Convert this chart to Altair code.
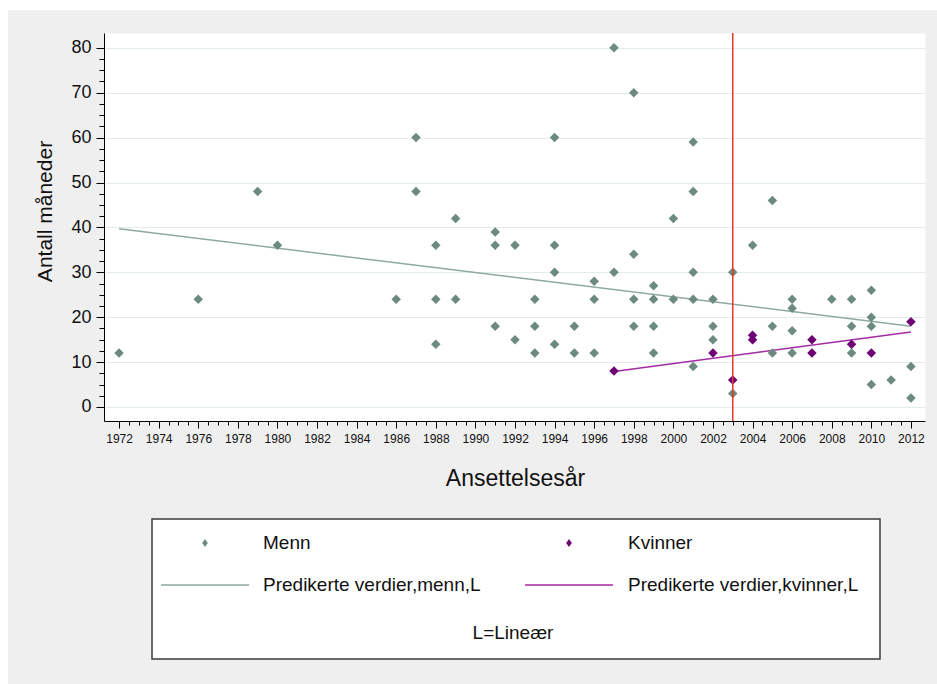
import altair as alt
import pandas as pd

# ---- data ----
men_year = [1972, 1976, 1979, 1980, 1986, 1987, 1987, 1988, 1988, 1988,
            1989, 1989, 1991, 1991, 1991, 1992, 1992, 1993, 1993, 1993,
            1994, 1994, 1994, 1994, 1995, 1995, 1996, 1996, 1996, 1997,
            1997, 1998, 1998, 1998, 1998, 1999, 1999, 1999, 1999, 2000,
            2000, 2001, 2001, 2001, 2001, 2001, 2002, 2002, 2002, 2003,
            2003, 2004, 2005, 2005, 2005, 2006, 2006, 2006, 2006, 2008,
            2009, 2009, 2009, 2010, 2010, 2010, 2010, 2011, 2012, 2012]
men_months = [12, 24, 48, 36, 24, 60, 48, 36, 24, 14,
              42, 24, 39, 36, 18, 36, 15, 24, 18, 12,
              60, 36, 30, 14, 18, 12, 28, 24, 12, 80,
              30, 70, 34, 24, 18, 27, 24, 18, 12, 42,
              24, 59, 48, 30, 24, 9, 24, 18, 15, 30,
              3, 36, 46, 18, 12, 24, 22, 17, 12, 24,
              24, 18, 12, 26, 20, 18, 5, 6, 9, 2]

women_year = [1997, 2002, 2003, 2004, 2004, 2007, 2007, 2009, 2010, 2012]
women_months = [8, 12, 6, 16, 15, 15, 12, 14, 12, 19]

fit_men_year = [1972, 2012]
fit_men_value = [39.7, 18.0]
fit_women_year = [1997, 2012]
fit_women_value = [7.9, 16.7]

cutoff_year = [2003]

x_major = list(range(1972, 2013, 2))
x_minor = [1972 + 0.5 * i for i in range(81)]
y_major = list(range(0, 81, 10))
y_minor = [2.5 * i for i in range(33)]

legend_labels = ["Menn", "Kvinner", "Predikerte verdier,menn,L", "Predikerte verdier,kvinner,L"]
legend_note = "L=Lineær"
x_title = "Ansettelsesår"
y_title = "Antall måneder"

# ---- styles ----
MEN_PT = "#6c8a7e"
MEN_LN = "#8fa99e"
WOM_PT = "#6e0073"
WOM_LN = "#a52aa5"
RED = "#e8372c"
FONT = "Liberation Sans, Arial, sans-serif"
TXT = "#111111"

W, H = 821, 388
xscale = alt.Scale(domain=[1971.24, 2012.71], nice=False, zero=False)
yscale = alt.Scale(domain=[-3.12, 83.3], nice=False, zero=False)

men_df = pd.DataFrame({"year": men_year, "months": men_months})
women_df = pd.DataFrame({"year": women_year, "months": women_months})
fit_df = pd.DataFrame({
    "year": fit_men_year + fit_women_year,
    "months": fit_men_value + fit_women_value,
    "grp": ["m", "m", "w", "w"],
})
cut_df = pd.DataFrame({"year": cutoff_year})
one = pd.DataFrame({"k": [0]})

x_major_axis = alt.Axis(values=x_major, format="d", orient="bottom", labelFontSize=12,
                        labelColor=TXT, tickSize=7, tickColor="black", domainColor="black",
                        labelPadding=5, grid=False, labelFlush=False, labelOverlap=False,
                        title=x_title, titleFontSize=23, titleFontWeight="normal",
                        titleColor=TXT, titleX=411, titleY=57, titleBaseline="middle")
y_major_axis = alt.Axis(values=y_major, orient="left", labelFontSize=18, labelColor=TXT,
                        tickSize=8, tickColor="black", domainColor="black", labelPadding=5,
                        grid=True, gridColor="#e2ecee", gridWidth=1.2,
                        title=y_title, titleFontSize=21, titleFontWeight="normal",
                        titleColor=TXT, titleX=-59, titleY=178, titleBaseline="middle",
                        titleAngle=270)
x_minor_axis = alt.Axis(values=x_minor, orient="bottom", labels=False, domain=False,
                        grid=False, tickSize=4, tickColor="black", title=None)
y_minor_axis = alt.Axis(values=y_minor, orient="left", labels=False, domain=False,
                        grid=False, tickSize=5, tickColor="black", title=None)

# background white strips (outer frame of the screenshot)
strip_top = alt.Chart(one).mark_rect(color="white").encode(
    x=alt.value(-104), x2=alt.value(833), y=alt.value(-33), y2=alt.value(-23))
strip_left = alt.Chart(one).mark_rect(color="white").encode(
    x=alt.value(-104), x2=alt.value(-96), y=alt.value(-33), y2=alt.value(651))

# minor axes carrier (fit lines)
fit_lines = alt.Chart(fit_df).mark_line(strokeWidth=1.5).encode(
    x=alt.X("year:Q", scale=xscale, axis=x_minor_axis),
    y=alt.Y("months:Q", scale=yscale, axis=y_minor_axis),
    color=alt.Color("grp:N", scale=alt.Scale(domain=["m", "w"], range=[MEN_LN, WOM_LN]), legend=None),
    detail="grp:N",
)

men_pts = alt.Chart(men_df).mark_point(shape="diamond", filled=True, size=90, opacity=1,
                                        color=MEN_PT).encode(
    x=alt.X("year:Q", scale=xscale, axis=x_major_axis),
    y=alt.Y("months:Q", scale=yscale, axis=y_major_axis),
)
women_pts = alt.Chart(women_df).mark_point(shape="diamond", filled=True, size=90, opacity=1,
                                            color=WOM_PT).encode(
    x=alt.X("year:Q", scale=xscale, axis=None),
    y=alt.Y("months:Q", scale=yscale, axis=None),
)
cut_rule = alt.Chart(cut_df).mark_rule(color=RED, strokeWidth=1.5).encode(
    x=alt.X("year:Q", scale=xscale, axis=None),
)

# legend (drawn manually below the plot)
box = alt.Chart(one).mark_rect(fill="white", stroke="#3c3c3c", strokeWidth=1.5).encode(
    x=alt.value(48), x2=alt.value(776), y=alt.value(486), y2=alt.value(626))
LEG_DIAMOND = "M0,-1L0.7,0L0,1L-0.7,0Z"
leg_m_sym = alt.Chart(one).mark_point(shape=LEG_DIAMOND, filled=True, size=64, opacity=1,
                                       color=MEN_PT).encode(x=alt.value(101), y=alt.value(510))
leg_w_sym = alt.Chart(one).mark_point(shape=LEG_DIAMOND, filled=True, size=64, opacity=1,
                                       color=WOM_PT).encode(x=alt.value(465), y=alt.value(510))
leg_m_line = alt.Chart(one).mark_rule(color=MEN_LN, strokeWidth=1.5).encode(
    x=alt.value(57), x2=alt.value(145), y=alt.value(552))
leg_w_line = alt.Chart(one).mark_rule(color=WOM_LN, strokeWidth=1.5).encode(
    x=alt.value(421), x2=alt.value(509), y=alt.value(552))


def leg_text(txt, x, y, align="left"):
    return alt.Chart(one).mark_text(text=txt, align=align, baseline="middle", fontSize=19,
                                    font=FONT, color=TXT).encode(x=alt.value(x), y=alt.value(y))


leg_texts = [
    leg_text(legend_labels[0], 159, 510),
    leg_text(legend_labels[1], 524, 510),
    leg_text(legend_labels[2], 159, 552),
    leg_text(legend_labels[3], 524, 552),
    leg_text(legend_note, 409, 600, align="center"),
]

chart = alt.layer(
    strip_top, strip_left,
    fit_lines, men_pts, women_pts, cut_rule,
    box, leg_m_sym, leg_w_sym, leg_m_line, leg_w_line, *leg_texts,
).resolve_axis(x="independent", y="independent").properties(
    width=W, height=H,
    autosize=alt.AutoSizeParams(type="none"),
    padding={"left": 104, "top": 33, "right": 12, "bottom": 263},
    background="#efefef",
).configure(font=FONT).configure_view(fill="white", stroke="transparent")

chart.save("out.html", embed_options={"renderer": "svg", "actions": False})
